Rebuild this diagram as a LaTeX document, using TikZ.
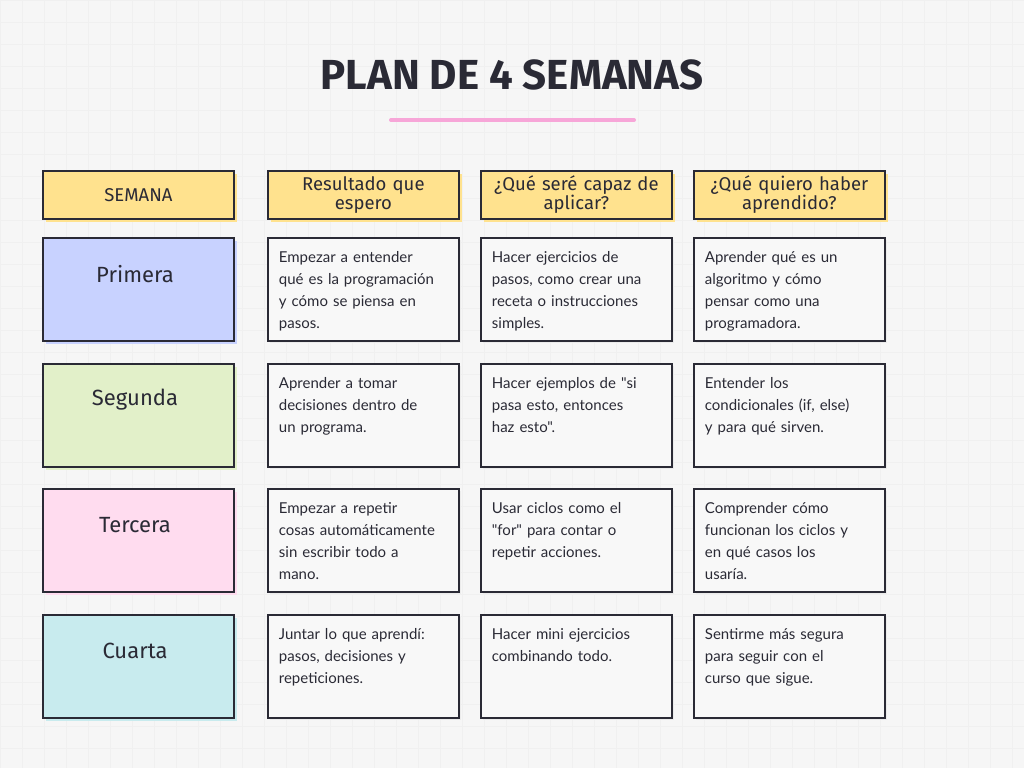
\documentclass[tikz,border=0pt]{standalone}
\usepackage{fontspec}
\setmainfont{Lato}[Ligatures=TeXOff]
\newfontfamily\headf{Fira Sans}
\definecolor{bg}{HTML}{F6F6F6}
\definecolor{ink}{HTML}{2A2A35}
\definecolor{yel}{HTML}{FFE28E}
\definecolor{blu}{HTML}{C8D2FF}
\definecolor{grn}{HTML}{E2F0C9}
\definecolor{pnk}{HTML}{FFDCEF}
\definecolor{cyn}{HTML}{C8EBEE}
\definecolor{cell}{HTML}{F8F8F8}
\definecolor{pinkline}{HTML}{F7A6D8}
\tikzset{
  box/.style={draw=ink,line width=1.8pt,minimum width=191pt,anchor=north west,inner sep=0pt},
  head/.style={box,minimum height=48pt,fill=yel,font=\headf\fontsize{18.5}{19}\selectfont,text=ink,align=center,text width=185pt},
  week/.style={box,minimum height=103pt,text=ink},
  txt/.style={box,minimum height=103pt,fill=cell,font=\fontsize{15}{22}\selectfont,text=ink,align=left,text width=169pt,inner xsep=11pt,inner ysep=0pt},
}
\begin{document}
\begin{tikzpicture}[x=1pt,y=-1pt]
\fill[bg] (0,0) rectangle (1024,768);
\useasboundingbox (0,0) rectangle (1024,768);
\draw[black!6,line width=0.6pt] (0,0) grid[step=22pt] (1024,768);
\node[font=\headf\bfseries\fontsize{42}{42}\selectfont,text=ink] (title) at (512,75) {PLAN DE 4 SEMANAS};
\draw[pinkline,line width=4pt,line cap=round] (391,120) -- (634,120);
% headers
\foreach \x/\n/\t in {42/h1/SEMANA,267/h2/{Resultado que\\espero},480/h3/{¿Qué seré capaz de\\aplicar?},693/h4/{¿Qué quiero haber\\aprendido?}}{
  \fill[yel] (\x+4,174) rectangle ++(191,48);
  \node[head] (\n) at (\x,170) {\t};
}
% week column
\foreach \y/\c/\n/\t in {237/blu/w1/Primera,363/grn/w2/Segunda,488/pnk/w3/Tercera,614/cyn/w4/Cuarta}{
  \fill[\c] (46,\y+4) rectangle ++(191,103);
  \node[week,fill=\c] (\n) at (42,\y) {};
  \node[font=\headf\fontsize{22}{22}\selectfont,text=ink] at (135,\y+37) {\t};
}
\newcommand\cellt[4]{%
  \fill[black!8] (#1+3,#2+3) rectangle ++(191,103);
  \node[txt] (#3) at (#1,#2) {\vbox to 95pt{\vskip 10pt\hbox{\parbox[t]{157pt}{\raggedright #4}}\vfil}};}
\cellt{267}{237}{a1}{Empezar a entender qué es la programación y cómo se piensa en pasos.}
\cellt{480}{237}{b1}{Hacer ejercicios de pasos, como crear una receta o instrucciones simples.}
\cellt{693}{237}{c1}{Aprender qué es un algoritmo y cómo pensar como una programadora.}
\cellt{267}{363}{a2}{Aprender a tomar decisiones dentro de un programa.}
\cellt{480}{363}{b2}{Hacer ejemplos de "si pasa esto, entonces haz esto".}
\cellt{693}{363}{c2}{Entender los condicionales (if, else) y para qué sirven.}
\cellt{267}{488}{a3}{Empezar a repetir cosas automáticamente sin escribir todo a mano.}
\cellt{480}{488}{b3}{Usar ciclos como el "for" para contar o repetir acciones.}
\cellt{693}{488}{c3}{Comprender cómo funcionan los ciclos y en qué casos los usaría.}
\cellt{267}{614}{a4}{Juntar lo que aprendí: pasos, decisiones y repeticiones.}
\cellt{480}{614}{b4}{Hacer mini ejercicios combinando todo.}
\cellt{693}{614}{c4}{Sentirme más segura para seguir con el curso que sigue.}
\end{tikzpicture}
\end{document}
